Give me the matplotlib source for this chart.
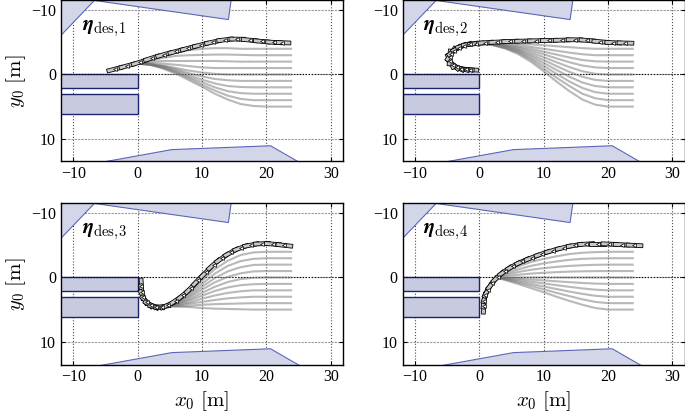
import numpy as np
import matplotlib
matplotlib.use("Agg")
import matplotlib.pyplot as plt
from matplotlib.patches import Polygon, Rectangle

plt.rcParams["font.family"] = ["Liberation Serif", "DejaVu Serif"]
plt.rcParams["mathtext.fontset"] = "cm"

# --- environment (same in every panel) ---
obst_top = [(-10, -12.0), (14.1, -8.55), (14.8, -13.5), (-10, -13.5)]
obst_left = [(-13, -4.95), (-5.5, -12.8), (-13, -12.8)]
obst_bottom = [(-8.5, 14.2), (5.3, 11.7), (20.65, 11.1), (26.0, 14.2)]
park_1 = (-15, 0.0, 15, 2.1)   # x, y, w, h
park_2 = (-15, 3.05, 15, 3.1)

labels = [r"$\boldsymbol{\eta}_{\mathrm{des},\!1}$", r"$\boldsymbol{\eta}_{\mathrm{des},\!2}$",
          r"$\boldsymbol{\eta}_{\mathrm{des},\!3}$", r"$\boldsymbol{\eta}_{\mathrm{des},\!4}$"]

# --- panel 1 ---
p1_path_x = [-3.5, -1.6, 0.3, 2.2, 4.1, 6.0, 7.9, 9.8, 11.7, 13.6, 15.5, 17.4, 19.3, 21.2, 22.5]
p1_path_y = [-0.85, -1.35, -1.9, -2.55, -3.1, -3.6, -4.1, -4.6, -5.05, -5.4, -5.5, -5.35, -5.15, -5.0, -4.95]
p1_grey_x = [0, 2, 4, 6, 8, 10, 12, 14, 16, 18, 20, 22, 24]
p1_grey_y = [
    [-1.7, -2.3, -2.9, -3.4, -3.8, -4.0, -4.1, -4.1, -4.0, -4.0, -4.0, -4.0, -4.0],
    [-1.7, -2.2, -2.6, -2.9, -3.0, -3.05, -3.1, -3.1, -3.05, -3.0, -3.0, -3.0, -3.0],
    [-1.7, -2.0, -2.1, -2.1, -2.1, -2.1, -2.1, -2.05, -2.0, -2.0, -2.0, -2.0, -2.0],
    [-1.7, -1.8, -1.7, -1.5, -1.3, -1.1, -1.0, -1.0, -1.0, -1.0, -1.0, -1.0, -1.0],
    [-1.7, -1.6, -1.4, -1.0, -0.6, -0.3, -0.1, 0.0, 0.0, 0.0, 0.0, 0.0, 0.0],
    [-1.7, -1.6, -1.3, -0.8, -0.2, 0.3, 0.7, 0.9, 1.0, 1.0, 1.0, 1.0, 1.0],
    [-1.7, -1.6, -1.2, -0.6, 0.1, 0.8, 1.4, 1.8, 1.95, 2.0, 2.0, 2.0, 2.0],
    [-1.7, -1.5, -1.1, -0.4, 0.4, 1.2, 2.0, 2.6, 2.9, 3.0, 3.0, 3.0, 3.0],
    [-1.7, -1.5, -1.0, -0.3, 0.6, 1.6, 2.5, 3.3, 3.8, 4.0, 4.0, 4.0, 4.0],
    [-1.7, -1.5, -0.9, -0.1, 0.9, 1.9, 3.0, 3.9, 4.6, 4.9, 5.0, 5.0, 5.0],
]

# --- panel 2 ---
p2_path_x = [-1.4, -2.1, -2.8, -3.5, -4.1, -4.5, -4.6, -4.4, -3.9, -3.2, -2.4, -1.5, -0.5, 0.9,
             2.8, 4.8, 6.8, 8.8, 10.8, 12.8, 14.8, 16.8, 18.8, 20.8, 22.7]
p2_path_y = [-0.75, -0.8, -0.9, -1.15, -1.55, -2.05, -2.65, -3.2, -3.7, -4.15, -4.5, -4.7, -4.8,
             -4.95, -5.05, -5.15, -5.2, -5.25, -5.3, -5.35, -5.4, -5.3, -5.1, -4.95, -4.9]
p2_grey_x = [0, 2, 4, 6, 8, 10, 12, 14, 16, 18, 20, 22, 24]
p2_grey_y = [
    [-4.8, -5.0, -4.95, -4.85, -4.7, -4.55, -4.4, -4.25, -4.1, -4.0, -4.0, -4.0, -4.0],
    [-4.8, -4.95, -4.8, -4.6, -4.3, -4.0, -3.7, -3.4, -3.15, -3.0, -3.0, -3.0, -3.0],
    [-4.8, -4.9, -4.65, -4.35, -4.0, -3.55, -3.1, -2.65, -2.25, -2.05, -2.0, -2.0, -2.0],
    [-4.8, -4.85, -4.55, -4.2, -3.7, -3.15, -2.5, -1.9, -1.4, -1.1, -1.0, -1.0, -1.0],
    [-4.8, -4.8, -4.45, -4.0, -3.4, -2.7, -1.9, -1.15, -0.5, -0.1, 0.0, 0.0, 0.0],
    [-4.8, -4.75, -4.4, -3.85, -3.1, -2.25, -1.3, -0.4, 0.35, 0.85, 1.0, 1.0, 1.0],
    [-4.8, -4.7, -4.3, -3.7, -2.85, -1.8, -0.7, 0.35, 1.25, 1.8, 2.0, 2.0, 2.0],
    [-4.8, -4.65, -4.2, -3.55, -2.55, -1.35, -0.1, 1.1, 2.1, 2.75, 3.0, 3.0, 3.0],
    [-4.8, -4.6, -4.1, -3.4, -2.3, -0.9, 0.5, 1.8, 3.0, 3.7, 4.0, 4.0, 4.0],
    [-4.8, -4.6, -4.05, -3.2, -2.0, -0.5, 1.1, 2.6, 3.9, 4.7, 5.0, 5.0, 5.0],
]

# --- panel 3 ---
p3_path_x = [0.6, 0.65, 0.9, 1.4, 2.1, 2.9, 3.8, 4.7, 5.9, 7.1, 8.3, 9.4, 10.6, 11.8, 13.1,
             14.5, 16.0, 17.6, 19.3, 21.0, 22.8]
p3_path_y = [1.4, 2.3, 3.1, 3.8, 4.3, 4.55, 4.55, 4.3, 3.6, 2.7, 1.6, 0.4, -0.8, -2.0, -3.0,
             -3.9, -4.6, -5.05, -5.25, -5.2, -5.0]
p3_grey_x = [3.5, 6, 8, 10, 12, 14, 16, 18, 20, 22, 24]
p3_grey_y = [
    [4.5, 3.8, 2.4, 0.5, -1.3, -2.6, -3.5, -3.9, -4.0, -4.0, -4.0],
    [4.5, 3.9, 2.6, 1.0, -0.6, -1.8, -2.55, -2.9, -3.0, -3.0, -3.0],
    [4.5, 4.0, 2.9, 1.45, 0.1, -0.95, -1.6, -1.95, -2.0, -2.0, -2.0],
    [4.5, 4.05, 3.1, 1.9, 0.75, -0.1, -0.65, -0.95, -1.0, -1.0, -1.0],
    [4.5, 4.15, 3.4, 2.4, 1.45, 0.7, 0.25, 0.05, 0.0, 0.0, 0.0],
    [4.5, 4.2, 3.6, 2.85, 2.1, 1.55, 1.2, 1.05, 1.0, 1.0, 1.0],
    [4.5, 4.3, 3.9, 3.3, 2.8, 2.4, 2.15, 2.0, 2.0, 2.0, 2.0],
    [4.5, 4.4, 4.1, 3.8, 3.5, 3.25, 3.1, 3.0, 3.0, 3.0, 3.0],
    [4.5, 4.45, 4.4, 4.25, 4.15, 4.1, 4.05, 4.0, 4.0, 4.0, 4.0],
    [4.5, 4.55, 4.6, 4.75, 4.85, 4.9, 4.95, 5.0, 5.0, 5.0, 5.0],
]

# --- panel 4 ---
p4_path_x = [0.7, 0.75, 0.95, 1.3, 2.0, 2.9, 4.0, 5.3, 6.7, 8.2, 9.8, 11.4, 13.1, 14.8, 16.6,
             18.4, 20.2, 22.1, 24.1]
p4_path_y = [4.4, 3.6, 2.8, 2.0, 0.9, -0.1, -1.0, -1.8, -2.5, -3.1, -3.7, -4.2, -4.65, -5.0,
             -5.2, -5.25, -5.2, -5.1, -5.0]
p4_grey_x = [2.7, 4, 6, 8, 10, 12, 14, 16, 18, 20, 22, 24]
p4_grey_y = [
    [0.0, -0.8, -1.7, -2.4, -2.9, -3.3, -3.65, -3.85, -3.95, -4.0, -4.0, -4.0],
    [0.0, -0.6, -1.25, -1.8, -2.2, -2.5, -2.75, -2.9, -2.97, -3.0, -3.0, -3.0],
    [0.0, -0.4, -0.85, -1.2, -1.45, -1.65, -1.8, -1.9, -1.97, -2.0, -2.0, -2.0],
    [0.0, -0.2, -0.42, -0.6, -0.73, -0.83, -0.91, -0.96, -0.99, -1.0, -1.0, -1.0],
    [0.1, 0.05, 0.0, 0.0, 0.0, 0.0, 0.0, 0.0, 0.0, 0.0, 0.0, 0.0],
    [0.0, 0.08, 0.2, 0.33, 0.46, 0.6, 0.73, 0.85, 0.95, 1.0, 1.0, 1.0],
    [0.0, 0.16, 0.4, 0.66, 0.92, 1.2, 1.46, 1.7, 1.9, 2.0, 2.0, 2.0],
    [0.0, 0.24, 0.6, 1.0, 1.4, 1.8, 2.2, 2.55, 2.85, 3.0, 3.0, 3.0],
    [0.0, 0.32, 0.8, 1.3, 1.85, 2.4, 2.9, 3.4, 3.8, 4.0, 4.0, 4.0],
    [0.0, 0.4, 1.0, 1.65, 2.3, 3.0, 3.65, 4.25, 4.75, 5.0, 5.0, 5.0],
]

panels = [
    (p1_path_x, p1_path_y, p1_grey_x, p1_grey_y),
    (p2_path_x, p2_path_y, p2_grey_x, p2_grey_y),
    (p3_path_x, p3_path_y, p3_grey_x, p3_grey_y),
    (p4_path_x, p4_path_y, p4_grey_x, p4_grey_y),
]

car_len = 2.6
car_wid = 0.6

fig = plt.figure(figsize=(6.85, 4.15), dpi=100)
W, H = 685.0, 415.0
# axes rectangles in pixels: left, top, width, height
rects = [(61, 0.3, 282, 161.2), (402.7, 0.3, 282, 161.2),
         (61, 203.3, 282, 161.2), (402.7, 203.3, 282, 161.2)]

for i, (px, py, gx, gy) in enumerate(panels):
    l, t, w, h = rects[i]
    ax = fig.add_axes([l / W, 1 - (t + h) / H, w / W, h / H])
    ax.set_xlim(-11.9, 31.9)
    ax.set_ylim(13.55, -11.55)

    # obstacles
    for poly in (obst_top, obst_left, obst_bottom):
        ax.add_patch(Polygon(poly, closed=True, fc="#d3d6e8", ec="#5c66b8", lw=0.8, zorder=1))
    for (rx, ry, rw, rh) in (park_1, park_2):
        ax.add_patch(Rectangle((rx, ry), rw, rh, fc="#c8cbe0", ec="#1c2470", lw=1.0, zorder=1))

    # grid
    ax.set_xticks([-10, 0, 10, 20, 30])
    ax.set_yticks([-10, 0, 10])
    ax.grid(True, axis="x", color="0.3", ls=":", lw=0.8, zorder=0)
    ax.grid(True, axis="y", color="0.6", ls=(0, (2, 1)), lw=0.8, zorder=0)
    ax.axhline(0, color="k", ls=":", lw=0.8, zorder=2)
    ax.set_axisbelow(True)

    # candidate trajectories
    for yy in gy:
        ax.plot(gx, yy, color="0.45", alpha=0.5, lw=1.5, zorder=3, solid_capstyle="butt")

    # selected trajectory with vehicle outlines
    ax.plot(px, py, color="k", lw=0.8, zorder=4)
    hx = np.gradient(np.asarray(px, float))
    hy = np.gradient(np.asarray(py, float))
    heading = np.degrees(np.arctan2(hy, hx))
    for x, y, a in zip(px, py, heading):
        ax.add_patch(Rectangle((x - car_len / 2, y - car_wid / 2), car_len, car_wid, angle=a,
                               rotation_point="center", fc="0.78", ec="k", lw=0.6, zorder=5))
    ax.plot(px, py, ls="none", marker="<", ms=2.8, mfc="white", mec="k", mew=0.5, zorder=6)

    ax.text(-8.7, -7.2, labels[i], fontsize=15, ha="left", va="center", zorder=6)

    ax.tick_params(direction="in", labelsize=11.5, length=3, top=True, right=True)
    for s in ax.spines.values():
        s.set_linewidth(1.0)
    if i % 2 == 0:
        ax.set_ylabel(r"$y_0\ [\mathrm{m}]$", fontsize=15, labelpad=2)
    if i >= 2:
        ax.set_xlabel(r"$x_0\ [\mathrm{m}]$", fontsize=15, labelpad=3)

fig.savefig("out.png", dpi=100)
